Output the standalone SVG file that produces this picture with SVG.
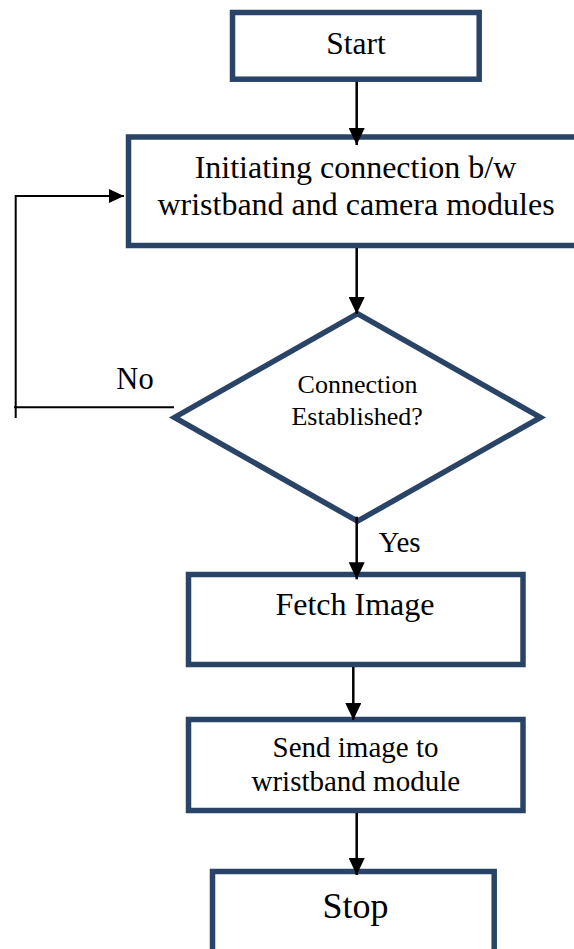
<svg xmlns="http://www.w3.org/2000/svg" width="574" height="949" viewBox="0 0 574 949">
  <style>
    .box { fill: #ffffff; stroke: #2a4467; stroke-width: 5.5; }
    .lbl { font-family: "Liberation Serif", "Times New Roman", serif; fill: #000000; text-anchor: middle; }
    .conn { fill: none; stroke: #000000; stroke-width: 2.5; }
    .thin { fill: none; stroke: #000000; stroke-width: 2; }
  </style>
  <defs>
    <marker id="ah" markerUnits="userSpaceOnUse" markerWidth="17" markerHeight="16" refX="17" refY="8" orient="auto">
      <path d="M0,0 L17,8 L0,16 z" fill="#000000"/>
    </marker>
    <marker id="ahs" markerUnits="userSpaceOnUse" markerWidth="15" markerHeight="14" refX="15" refY="7" orient="auto">
      <path d="M0,0 L15,7 L0,14 z" fill="#000000"/>
    </marker>
  </defs>
  <rect width="574" height="949" fill="#ffffff"/>

  <g id="start">
    <rect class="box" x="232.5" y="12.5" width="246.7" height="66.7"/>
    <text class="lbl" x="356" y="54" font-size="31.5">Start</text>
  </g>

  <g id="initiate">
    <rect class="box" x="128.5" y="137" width="460" height="108.5"/>
    <text class="lbl" x="355.5" y="178.3" font-size="32">Initiating connection b/w</text>
    <text class="lbl" x="356" y="215" font-size="32">wristband and camera modules</text>
  </g>

  <g id="decision">
    <polygon class="box" points="357.5,313.6 540.5,417.4 357.5,521.2 174.5,417.4"/>
    <text class="lbl" x="357.5" y="393.3" font-size="26">Connection</text>
    <text class="lbl" x="357.2" y="425" font-size="26">Established?</text>
  </g>

  <g id="fetch">
    <rect class="box" x="188.5" y="574.5" width="334.5" height="90"/>
    <text class="lbl" x="355" y="615" font-size="32">Fetch Image</text>
  </g>

  <g id="send">
    <rect class="box" x="188.5" y="719.5" width="334.5" height="91"/>
    <text class="lbl" x="355.5" y="757.3" font-size="29">Send image to</text>
    <text class="lbl" x="355.8" y="791" font-size="29">wristband module</text>
  </g>

  <g id="stop">
    <rect class="box" x="212.5" y="871.5" width="281.7" height="90"/>
    <text class="lbl" x="355.5" y="918.3" font-size="36">Stop</text>
  </g>

  <g id="connectors">
    <line class="conn" x1="356.7" y1="81.7" x2="356.7" y2="145" marker-end="url(#ah)"/>
    <line class="conn" x1="356.7" y1="248" x2="356.7" y2="314" marker-end="url(#ah)"/>
    <line class="conn" x1="356.7" y1="516.7" x2="356.7" y2="579.3" marker-end="url(#ah)"/>
    <line class="conn" x1="353.3" y1="667" x2="353.3" y2="720" marker-end="url(#ah)"/>
    <line class="conn" x1="356.7" y1="813" x2="356.7" y2="875" marker-end="url(#ah)"/>
    <path class="thin" d="M15.7,418 V196 H124" marker-end="url(#ahs)"/>
    <line class="thin" x1="14" y1="407.3" x2="174" y2="407.3"/>
    <text class="lbl" x="135" y="389" font-size="30.5">No</text>
    <text class="lbl" x="399.5" y="551.7" font-size="29">Yes</text>
  </g>
</svg>
